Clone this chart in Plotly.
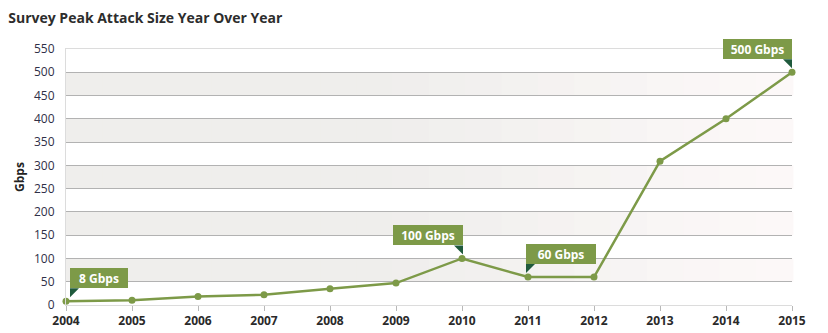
import plotly.graph_objects as go

years = [2004, 2005, 2006, 2007, 2008, 2009, 2010, 2011, 2012, 2013, 2014, 2015]
gbps = [8, 10, 18, 22, 35, 47, 100, 60, 60, 309, 400, 500]
y_ticks = list(range(0, 551, 50))
callouts = [(2004, 8, "8 Gbps", "left", 58, 4), (2010, 100, "100 Gbps", "right", 70, 1),
            (2011, 60, "60 Gbps", "left", 70, -2), (2015, 500, "500 Gbps", "right", 69, 0)]

GREEN = "#7d9a48"
DARK = "#1f5a3c"

fig = go.Figure()
fig.add_trace(go.Scatter(x=years, y=gbps, mode="lines+markers",
                         line=dict(color=GREEN, width=2.5),
                         marker=dict(color=GREEN, size=7),
                         cliponaxis=False, hoverinfo="skip"))

shapes = []
def lerp(a, b, t):
    return int(round(a + (b - a) * t))
c0 = (0xef, 0xee, 0xec)
c1 = (0xfd, 0xf9, 0xf9)
N = 20
for lo in range(50, 500, 100):
    hi = lo + 50
    for i in range(N):
        x0 = i / N
        x1 = (i + 1) / N
        t = max(0.0, (x0 + x1) / 2 - 0.45) / 0.55
        col = "rgb(%d,%d,%d)" % tuple(lerp(c0[k], c1[k], t) for k in range(3))
        shapes.append(dict(type="rect", xref="x domain", yref="y",
                           x0=x0, x1=x1 + 0.002, y0=lo, y1=hi,
                           fillcolor=col, line=dict(width=0), layer="below"))

annotations = []
for yr, val, text, side, w, dx in callouts:
    annotations.append(dict(x=yr, y=val, xref="x", yref="y", text="<b>%s</b>" % text,
                            showarrow=False, xanchor=side, yanchor="bottom",
                            xshift=dx, yshift=13,
                            width=w, height=20, align="center", valign="middle",
                            bgcolor=GREEN, borderpad=0, borderwidth=0,
                            font=dict(family="Open Sans", size=12, color="white")))
    if side == "left":
        path = "M %d 13 L %d 13 L %d 4 Z" % (dx, dx + 9, dx)
    else:
        path = "M %d 13 L %d 13 L %d 4 Z" % (dx - 9, dx, dx)
    shapes.append(dict(type="path", xref="x", yref="y", xsizemode="pixel",
                       ysizemode="pixel", xanchor=yr, yanchor=val, path=path,
                       fillcolor=DARK, line=dict(width=0), layer="above"))

fig.update_layout(
    width=828, height=333,
    margin=dict(l=66, r=36, t=49, b=28),
    paper_bgcolor="white", plot_bgcolor="white",
    showlegend=False,
    title=dict(text="<b>Survey Peak Attack Size Year Over Year</b>", x=0.01, xanchor="left",
               y=0.945, yanchor="middle",
               font=dict(family="Open Sans", size=14, color="#2d2d2d")),
    xaxis=dict(range=[2004, 2015], tickvals=years, ticktext=["<b>%d</b>" % y for y in years],
               showgrid=False, zeroline=False, showline=True, linecolor="#dcdcdc",
               mirror=True, ticks="outside", ticklen=5, tickcolor="#b8b8b8",
               automargin=False,
               tickfont=dict(family="Open Sans", size=12, color="#2a2a2a")),
    yaxis=dict(range=[0, 550], tickvals=y_ticks, showgrid=True, gridcolor="#b2b2b2",
               gridwidth=1, zeroline=False, showline=True, linecolor="#dcdcdc",
               ticks="", ticklabelstandoff=8, automargin=False,
               tickfont=dict(family="Open Sans", size=12, color="#2f3048"),
               title=dict(text="<b>Gbps</b>", standoff=6,
                          font=dict(family="Open Sans", size=12, color="#222"))),
    shapes=shapes, annotations=annotations,
)
fig.write_html("out.html")
